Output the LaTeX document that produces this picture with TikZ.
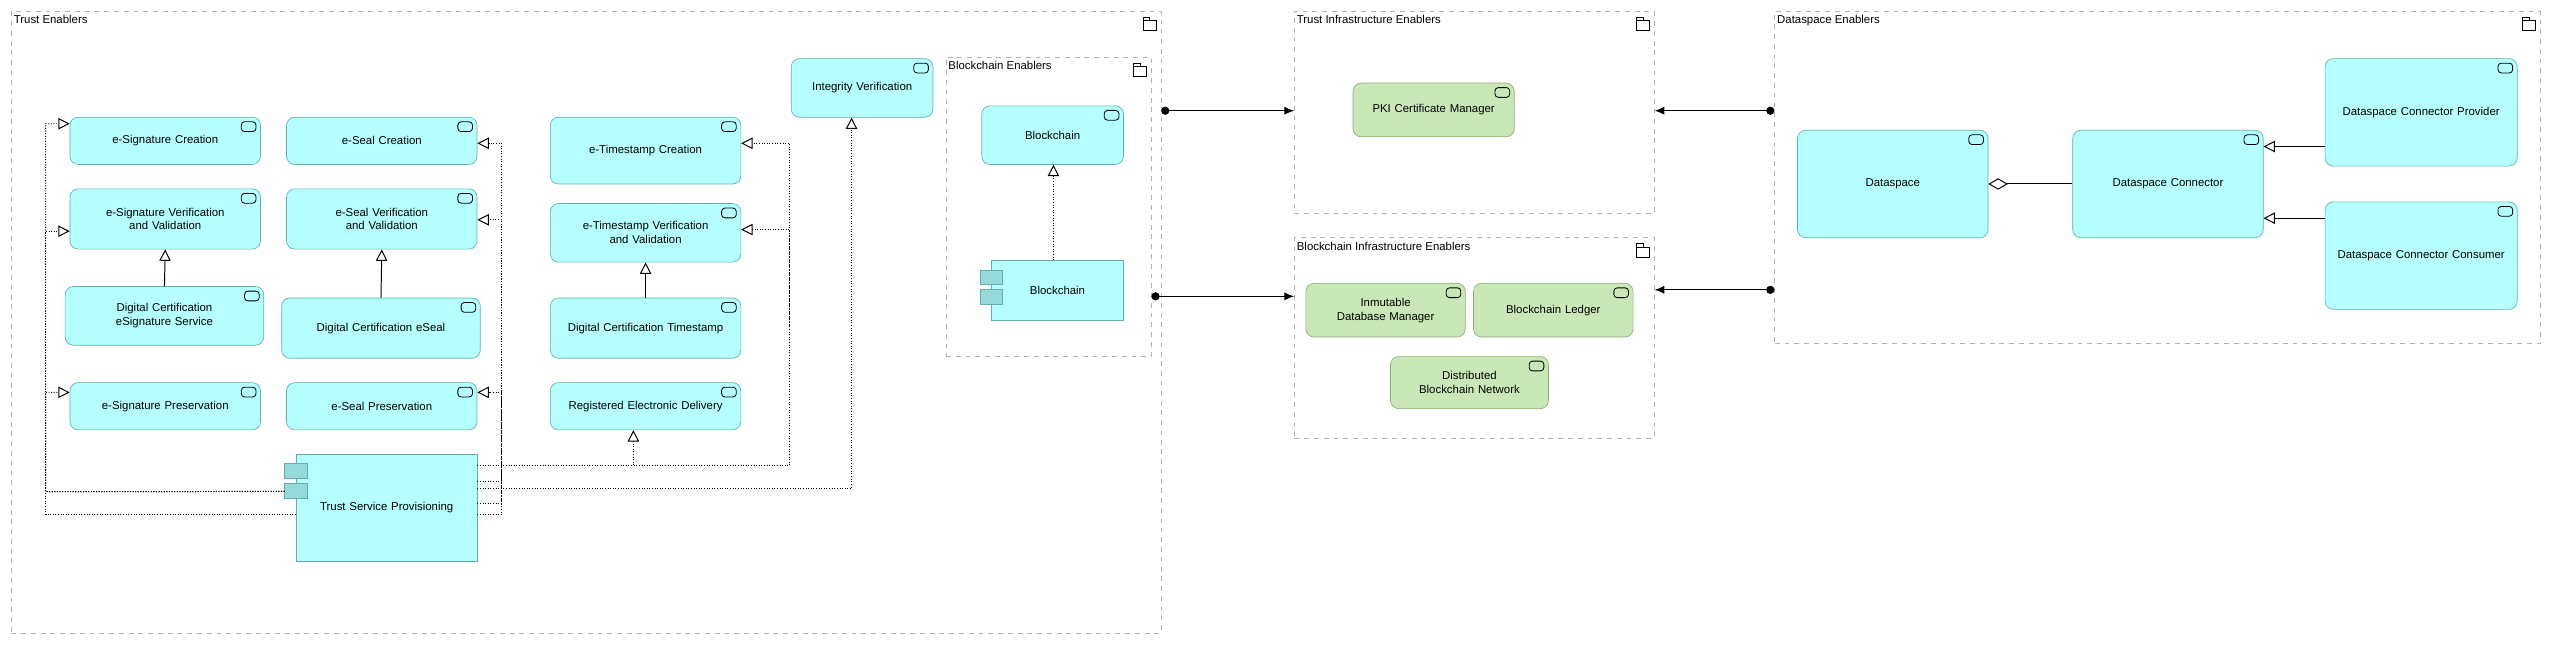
\documentclass[tikz,border=0pt]{standalone}
\usepackage{fontspec}
\setmainfont{Liberation Sans}
\usetikzlibrary{calc,arrows.meta}
\hyphenpenalty=10000 \exhyphenpenalty=10000
\definecolor{cyanf}{HTML}{B5FFFF}
\definecolor{cyand}{HTML}{5FAFAF}
\definecolor{greenf}{HTML}{C9E7B7}
\definecolor{greend}{HTML}{8CAE73}
\definecolor{sqf}{HTML}{95D9D9}
\tikzset{
 svcbox/.style={draw=cyand,fill=cyanf,rounded corners=5pt,align=center,inner sep=2pt,font=\fontsize{7}{8.5}\selectfont},
 techbox/.style={svcbox,draw=greend,fill=greenf},
 compbox/.style={draw=cyand,fill=cyanf,align=center,inner sep=2pt,font=\fontsize{7}{8.5}\selectfont},
 framebox/.style={draw=gray!60,dashed,inner sep=0pt},
 icon/.style={draw=black,line width=0.5pt,rounded corners=2pt},
 real/.style={densely dotted,line width=0.6pt,-{Triangle[open,length=7pt,width=7pt,fill=white]}},
 spec/.style={line width=0.6pt,-{Triangle[open,length=7pt,width=7pt,fill=white]}},
 flow/.style={line width=0.7pt,{Circle[length=5pt]}-{Latex[length=6pt,width=5pt]}},
 aggr/.style={line width=0.6pt,-{Diamond[open,length=12pt,width=7pt,fill=white]}},
}
\newcommand\svc[7]{%
 \pgfmathsetmacro\ww{#5-#3}\pgfmathsetmacro\hh{#6-#4}\pgfmathsetmacro\tw{#5-#3-14}%
 \node[#1,minimum width=\ww pt,minimum height=\hh pt,text width=\tw pt] (#2) at ({(#3+#5)/2},{(#4+#6)/2}) {#7};
 \draw[icon] ($(#2.north east)+(-12,3)$) rectangle ++(9,6);}
\newcommand\comp[6]{%
 \pgfmathsetmacro\ww{#4-#2}\pgfmathsetmacro\hh{#5-#3}\pgfmathsetmacro\tw{#4-#2-16}%
 \node[compbox,minimum width=\ww pt,minimum height=\hh pt,text width=\tw pt] (#1) at ({(#2+#4)/2},{(#3+#5)/2}) {#6};
 \draw[draw=cyand,fill=sqf] ($(#1.north west)+(-7,6)$) rectangle ++(14,9);
 \draw[draw=cyand,fill=sqf] ($(#1.north west)+(-7,18)$) rectangle ++(14,9);}
\newcommand\frm[6]{%
 \pgfmathsetmacro\ww{#4-#2}\pgfmathsetmacro\hh{#5-#3}%
 \node[framebox,minimum width=\ww pt,minimum height=\hh pt] (#1) at ({(#2+#4)/2},{(#3+#5)/2}) {};
 \node[anchor=north west,inner sep=1.5pt,font=\fontsize{7}{8.5}\selectfont] at ($(#1.north west)+(0,1)$) {#6};
 \draw[line width=0.5pt] ($(#1.north east)+(-11,4)$) -- ++(0,8) -- ++(8,0) -- ++(0,-6) -- ++(-4,0) -- ++(0,-2) -- cycle ($(#1.north east)+(-11,6)$) -- ++(4,0);}
\begin{document}
\begin{tikzpicture}[x=1pt,y=-1pt]
\useasboundingbox (0,0) rectangle (1568,396);
% frames
\frm{te}{7}{7}{713}{389}{Trust Enablers}
\frm{bce}{581}{35}{707}{219}{Blockchain Enablers}
\frm{tie}{795}{7}{1016}{131}{Trust Infrastructure Enablers}
\frm{bie}{795}{146}{1016}{269}{Blockchain Infrastructure Enablers}
\frm{dse}{1090}{7}{1560}{211}{Dataspace Enablers}
% trust enablers
\svc{svcbox}{esc}{43}{72}{160}{101}{e-Signature Creation}
\svc{svcbox}{esl}{176}{72}{293}{101}{e-Seal Creation}
\svc{svcbox}{etc}{338}{72}{455}{113}{e-Timestamp Creation}
\svc{svcbox}{ivr}{486}{36}{573}{72}{Integrity Verification}
\svc{svcbox}{esv}{43}{116}{160}{153}{e-Signature Verification and Validation}
\svc{svcbox}{eslv}{176}{116}{293}{153}{e-Seal Verification and Validation}
\svc{svcbox}{etv}{338}{125}{455}{161}{e-Timestamp Verification and Validation}
\svc{svcbox}{dcs}{40}{176}{162}{212}{Digital Certification eSignature Service}
\svc{svcbox}{dce}{173}{183}{295}{220}{Digital Certification eSeal}
\svc{svcbox}{dct}{338}{183}{455}{220}{Digital Certification Timestamp}
\svc{svcbox}{esp}{43}{235}{160}{264}{e-Signature Preservation}
\svc{svcbox}{eslp}{176}{235}{293}{264}{e-Seal Preservation}
\svc{svcbox}{red}{338}{235}{455}{264}{Registered Electronic Delivery}
\comp{tsp}{182}{279}{293}{345}{Trust Service Provisioning}
% blockchain enablers
\svc{svcbox}{bcs}{603}{65}{690}{101}{Blockchain}
\comp{bcc}{609}{160}{690}{197}{Blockchain}
% infra
\svc{techbox}{pki}{831}{51}{930}{84}{PKI Certificate Manager}
\svc{techbox}{idm}{802}{174}{900}{207}{Inmutable Database Manager}
\svc{techbox}{bcl}{905}{174}{1003}{207}{Blockchain Ledger}
\svc{techbox}{dbn}{854}{219}{951}{251}{Distributed Blockchain Network}
% dataspace
\svc{svcbox}{ds}{1104}{80}{1221}{146}{Dataspace}
\svc{svcbox}{dsc}{1273}{80}{1390}{146}{Dataspace Connector}
\svc{svcbox}{dcp}{1428}{36}{1546}{102}{Dataspace Connector Provider}
\svc{svcbox}{dcc}{1428}{124}{1546}{190}{Dataspace Connector Consumer}
% specializations
\draw[spec] (dcs.north) -- (esv.south);
\draw[spec] (dce.north) -- (eslv.south);
\draw[spec] (dct.north) -- (etv.south);
\draw[spec] (dcp.west|-0,90) -- (dsc.east|-0,90);
\draw[spec] (dcc.west|-0,134) -- (dsc.east|-0,134);
\draw[aggr] (dsc.west) -- (ds.east);
\draw[real] (bcc.north-|647,0) -- (bcs.south-|647,0);
% realizations from TSP
\coordinate (tl) at ($(tsp.north west)+(-7,23)$);
\draw[real] (tl) -- (28,302) -- (28,76) -- (esc.west|-0,76);
\draw[real] (tsp.west|-0,316) -- (28,316) -- (28,142) -- (esv.west|-0,142);
\draw[real] (tl) -- (28,302) -- (28,241) -- (esp.west|-0,241);
\draw[real] (tsp.east|-0,296) -- (308,296) -- (308,88) -- (esl.east|-0,88);
\draw[real] (tsp.east|-0,309) -- (308,309) -- (308,135) -- (eslv.east|-0,135);
\draw[real] (tsp.east|-0,316) -- (308,316) -- (308,241) -- (eslp.east|-0,241);
\draw[real] (tsp.east|-0,286) -- (389,286) -- (red.south-|389,0);
\draw[real] (tsp.east|-0,286) -- (485,286) -- (485,88) -- (etc.east|-0,88);
\draw[real] (485,200) -- (485,141) -- (etv.east|-0,141);
\draw[real] (tsp.east|-0,300) -- (523,300) -- (ivr.south-|523,0);
% flows
\draw[flow] (te.east|-0,68) -- (tie.west|-0,68);
\draw[flow] (bce.east|-0,182) -- (bie.west|-0,182);
\draw[flow] (dse.west|-0,68) -- (tie.east|-0,68);
\draw[flow] (dse.west|-0,178) -- (bie.east|-0,178);
\end{tikzpicture}
\end{document}
